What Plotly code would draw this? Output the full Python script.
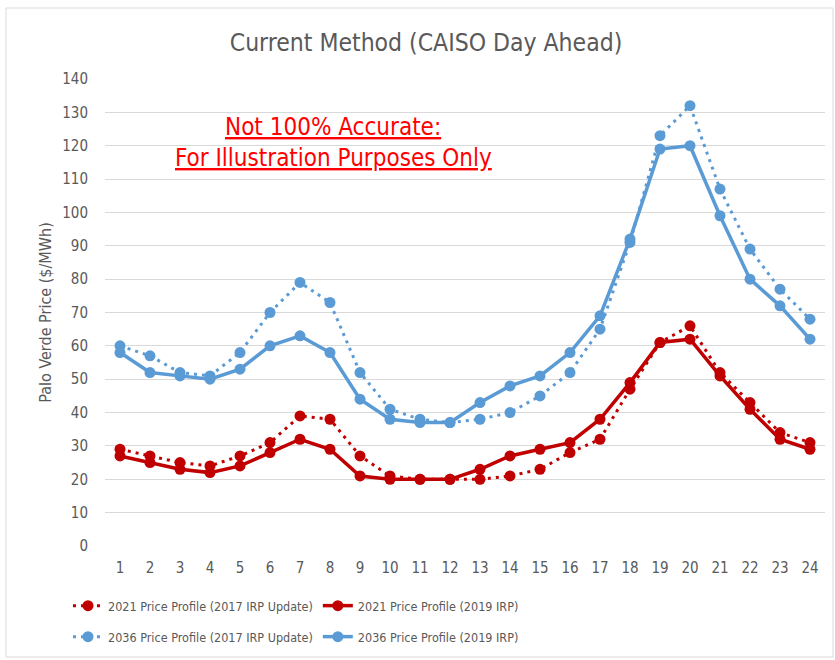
import plotly.graph_objects as go

hours = list(range(1, 25))
p2021_2017 = [29, 27, 25, 24, 27, 31, 39, 38, 27, 21, 20, 20, 20, 21, 23, 28, 32, 47, 61, 66, 52, 43, 34, 31]
p2021_2019 = [27, 25, 23, 22, 24, 28, 32, 29, 21, 20, 20, 20, 23, 27, 29, 31, 38, 49, 61, 62, 51, 41, 32, 29]
p2036_2017 = [60, 57, 52, 51, 58, 70, 79, 73, 52, 41, 38, 37, 38, 40, 45, 52, 65, 91, 123, 132, 107, 89, 77, 68]
p2036_2019 = [58, 52, 51, 50, 53, 60, 63, 58, 44, 38, 37, 37, 43, 48, 51, 58, 69, 92, 119, 120, 99, 80, 72, 62]
y_ticks = list(range(0, 141, 10))

RED = "#C00000"
BLUE = "#5B9BD5"
GRAY = "#595959"
FONT = "DejaVu Sans Condensed, Liberation Sans, sans-serif"

W, H = 835, 660
L, R, T, B = 105, 10, 79, 114
PW, PH = W - L - R, H - T - B

def px_x(px):
    return (px - L) / PW

def px_y(py):
    return (H - B - py) / PH

fig = go.Figure()
fig.add_trace(go.Scatter(x=hours, y=p2021_2017, mode="lines+markers", name="2021 Price Profile (2017 IRP Update)",
                         line=dict(color=RED, width=3, dash="3px,5px"), marker=dict(size=11, color=RED), legend="legend"))
fig.add_trace(go.Scatter(x=hours, y=p2021_2019, mode="lines+markers", name="2021 Price Profile (2019 IRP)",
                         line=dict(color=RED, width=3.5), marker=dict(size=11, color=RED), legend="legend"))
fig.add_trace(go.Scatter(x=hours, y=p2036_2017, mode="lines+markers", name="2036 Price Profile (2017 IRP Update)",
                         line=dict(color=BLUE, width=3, dash="3px,5px"), marker=dict(size=11, color=BLUE), legend="legend2"))
fig.add_trace(go.Scatter(x=hours, y=p2036_2019, mode="lines+markers", name="2036 Price Profile (2019 IRP)",
                         line=dict(color=BLUE, width=3.5), marker=dict(size=11, color=BLUE), legend="legend2"))

legend_common = dict(orientation="h", xanchor="left", yanchor="middle", bgcolor="rgba(0,0,0,0)",
                     font=dict(family=FONT, size=12.5, color=GRAY), itemwidth=30, tracegroupgap=0)

fig.update_layout(
    width=W, height=H,
    margin=dict(l=L, r=R, t=T, b=B, autoexpand=False),
    paper_bgcolor="white", plot_bgcolor="white",
    font=dict(family=FONT, color=GRAY),
    title=dict(text="Current Method (CAISO Day Ahead)", xref="paper", x=px_x(426), xanchor="center",
               y=1 - 42 / H, yanchor="middle",
               font=dict(family=FONT, size=24.5, color=GRAY)),
    xaxis=dict(range=[0.5, 24.5], tickmode="array", tickvals=hours, ticktext=[str(h) for h in hours],
               showgrid=False, zeroline=False, showline=False, ticks="", automargin=False,
               tickfont=dict(family=FONT, size=15, color=GRAY), ticklabelstandoff=11),
    yaxis=dict(range=[0, 140], tickmode="array", tickvals=y_ticks, showgrid=True, gridcolor="#D9D9D9", gridwidth=1,
               zeroline=False, showline=False, ticks="", automargin=False,
               tickfont=dict(family=FONT, size=15, color=GRAY), ticklabelstandoff=16,
               title=dict(text="Palo Verde Price ($/MWh)", font=dict(family=FONT, size=16, color=GRAY), standoff=6)),
    legend=dict(x=px_x(68), y=px_y(606), **legend_common),
    legend2=dict(x=px_x(68), y=px_y(637), **legend_common),
    shapes=[dict(type="rect", xref="paper", yref="paper", x0=px_x(6), x1=px_x(833), y0=px_y(657), y1=px_y(8),
                 line=dict(color="#D9D9D9", width=1), fillcolor="rgba(0,0,0,0)", layer="below")],
    annotations=[
        dict(text="<u>Not 100% Accurate:</u>", x=px_x(333), y=px_y(127), xref="paper", yref="paper",
             showarrow=False, xanchor="center", yanchor="middle", font=dict(family=FONT, size=24, color="#FF0000")),
        dict(text="<u>For Illustration Purposes Only</u>", x=px_x(333), y=px_y(158), xref="paper", yref="paper",
             showarrow=False, xanchor="center", yanchor="middle", font=dict(family=FONT, size=24, color="#FF0000")),
    ],
)

fig.write_html("out.html", config={"displayModeBar": False},
               post_script="document.body.style.margin='0px';")
